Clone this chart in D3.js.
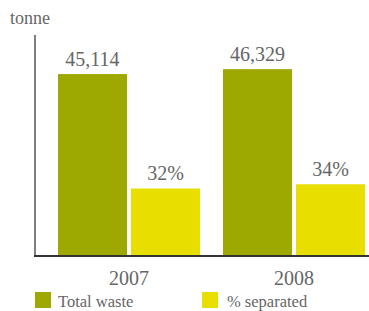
<!DOCTYPE html>
<html>
<head>
    <meta charset="utf-8" />
    <script src="https://d3js.org/d3.v7.min.js"></script>
    <style>
        body { margin: 0; background: #fff; }
    </style>
</head>
<body>
<script>
    var years = ["2007", "2008"];
    var totalWaste = [45114, 46329];
    var pctSeparated = [32, 34];
    var seriesNames = ["Total waste", "% separated"];
    var unitLabel = "tonne";

    var w = 369, h = 311;
    var colors = ["#9da800", "#e8de00"];
    var serif = "'Liberation Serif', 'Times New Roman', Times, 'DejaVu Serif', serif";

    var svg = d3.select("body").append("svg")
        .attr("width", w)
        .attr("height", h)
        .attr("font-family", serif);

    var x0 = d3.scaleBand().domain(years).range([58, 365])
        .paddingInner(23 / 165).paddingOuter(0);
    var x1 = d3.scaleBand().domain(["total", "pct"]).range([0, x0.bandwidth()])
        .paddingInner(4 / 73).paddingOuter(0);
    var y = d3.scaleLinear().domain([0, 54800]).range([256, 35]);
    var y2 = d3.scaleLinear().domain([0, 100]).range([256, 45]);

    var rows = years.map(function(yr, i) {
        return [
            {year: yr, key: "total", y: y(totalWaste[i]), label: d3.format(",")(totalWaste[i]), c: colors[0]},
            {year: yr, key: "pct", y: y2(pctSeparated[i]), label: pctSeparated[i] + "%", c: colors[1]}
        ];
    });
    var bars = d3.merge(rows);

    svg.selectAll("rect.bar")
        .data(bars)
        .enter()
        .append("rect")
        .attr("class", "bar")
        .attr("x", function(d) { return x0(d.year) + x1(d.key); })
        .attr("y", function(d) { return d.y; })
        .attr("width", x1.bandwidth())
        .attr("height", function(d) { return 256 - d.y; })
        .style("fill", function(d) { return d.c; });

    svg.selectAll("text.val")
        .data(bars)
        .enter()
        .append("text")
        .attr("class", "val")
        .attr("x", function(d) { return x0(d.year) + x1(d.key) + x1.bandwidth() / 2; })
        .attr("y", function(d) { return d.y - 8; })
        .attr("text-anchor", "middle")
        .attr("fill", "#666")
        .style("font-size", "20px")
        .text(function(d) { return d.label; });

    // axes lines
    svg.append("line")
        .attr("x1", 35).attr("x2", 35)
        .attr("y1", y.range()[1]).attr("y2", y.range()[0] + 1)
        .style("stroke", "#555").style("stroke-width", 1.5);
    svg.append("line")
        .attr("x1", 34).attr("x2", w)
        .attr("y1", 256).attr("y2", 256)
        .style("stroke", "#333").style("stroke-width", 2);

    svg.selectAll("text.year")
        .data(years)
        .enter()
        .append("text")
        .attr("class", "year")
        .attr("x", function(d) { return x0(d) + x0.bandwidth() / 2; })
        .attr("y", 285)
        .attr("text-anchor", "middle")
        .attr("fill", "#666")
        .style("font-size", "20px")
        .text(function(d) { return d; });

    svg.append("text")
        .attr("x", 10).attr("y", 24)
        .attr("fill", "#666")
        .style("font-size", "18px")
        .text(unitLabel);

    var legendX = [35, 202];
    var legend = svg.selectAll("g.legend")
        .data(seriesNames)
        .enter()
        .append("g")
        .attr("class", "legend")
        .attr("transform", function(d, i) { return "translate(" + legendX[i] + ",292)"; });
    legend.append("rect")
        .attr("width", 16).attr("height", 16)
        .style("fill", function(d, i) { return colors[i]; });
    legend.append("text")
        .attr("x", function(d, i) { return i == 0 ? 23 : 25; })
        .attr("y", 15)
        .attr("fill", "#666")
        .style("font-size", "16.5px")
        .text(function(d) { return d; });
</script>
</body>
</html>
